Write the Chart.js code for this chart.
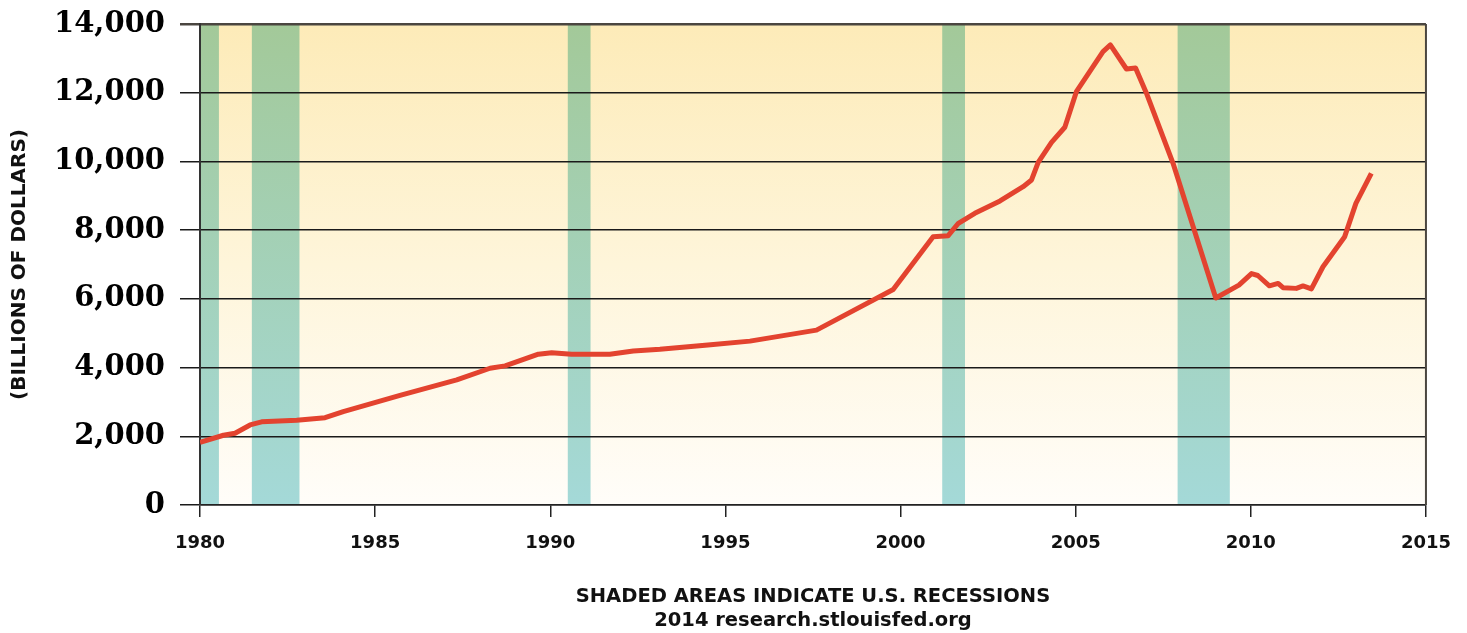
<!DOCTYPE html>
<html>
<head>
<meta charset="utf-8">
<script src="https://cdn.jsdelivr.net/npm/chart.js@4/dist/chart.umd.min.js"></script>
<style>
  body { margin: 0; background: #fff; }
  #wrap { width: 1467px; height: 633px; }
</style>
</head>
<body>
<div id="wrap"><canvas id="debtChart" width="1467" height="633"></canvas></div>
<script>
// values (billions of dollars)
const years = [1980.0, 1980.67, 1981.0, 1981.43, 1981.76, 1982.76, 1983.57, 1984.09, 1985.71, 1987.33,
    1988.28, 1988.71, 1989.66, 1990.04, 1990.61, 1991.7, 1992.37, 1993.13, 1994.5, 1995.7, 1997.6,
    1999.79, 2000.93, 2001.36, 2001.65, 2002.12, 2002.84, 2003.5, 2003.74, 2003.93, 2004.31, 2004.69,
    2005.02, 2005.78, 2005.99, 2006.45, 2006.71, 2007.02, 2007.78, 2009.0, 2009.66, 2010.02, 2010.2,
    2010.53, 2010.78, 2010.92, 2011.3, 2011.49, 2011.73, 2012.06, 2012.68, 2013.0, 2013.44];
const debtValues = [1820, 2030, 2090, 2330, 2420, 2470, 2540, 2720, 3190, 3640,
    3980, 4050, 4390, 4430, 4390, 4390, 4480, 4530, 4660, 4770, 5090,
    6270, 7810, 7840, 8200, 8490, 8850, 9265, 9460, 9975, 10555, 10995,
    12030, 13195, 13390, 12690, 12720, 11985, 9945, 6025, 6400, 6735, 6680,
    6380, 6450, 6325, 6305, 6375, 6290, 6935, 7810, 8780, 9655];

const recessionStart = [1980.0, 1981.48, 1990.5, 2001.19, 2007.91];
const recessionEnd = [1980.54, 1982.84, 1991.15, 2001.84, 2009.4];

const yTickValues = [0, 2000, 4000, 6000, 8000, 10000, 12000, 14000];
const xTickValues = [1980, 1985, 1990, 1995, 2000, 2005, 2010, 2015];

const backdrop = {
    id: 'backdrop',
    beforeDraw(chart) {
        const { ctx, chartArea: a, scales: { x } } = chart;
        ctx.save();
        const bg = ctx.createLinearGradient(0, a.top, 0, a.bottom);
        bg.addColorStop(0, '#fdebb8');
        bg.addColorStop(0.5, '#fef5da');
        bg.addColorStop(1, '#fffdf9');
        ctx.fillStyle = bg;
        ctx.fillRect(a.left, a.top, a.width, a.height);

        const band = ctx.createLinearGradient(0, a.top, 0, a.bottom);
        band.addColorStop(0, '#a3c999');
        band.addColorStop(1, '#a4d9d8');
        ctx.fillStyle = band;
        recessionStart.forEach((s, i) => {
            const x0 = x.getPixelForValue(s);
            const x1 = x.getPixelForValue(recessionEnd[i]);
            ctx.fillRect(x0, a.top, x1 - x0, a.height);
        });
        ctx.restore();
    },
    afterDraw(chart) {
        // right frame line
        const { ctx, chartArea: a } = chart;
        ctx.save();
        ctx.strokeStyle = '#4a4640';
        ctx.lineWidth = 2;
        ctx.beginPath();
        ctx.moveTo(a.right, a.top);
        ctx.lineTo(a.right, a.bottom);
        ctx.stroke();
        ctx.restore();
    }
};

new Chart(document.getElementById('debtChart'), {
    type: 'line',
    data: {
        datasets: [{
            data: years.map((y, i) => ({ x: y, y: debtValues[i] })),
            borderColor: '#e3432f',
            borderWidth: 5,
            pointRadius: 0,
            tension: 0,
            fill: false,
            borderJoinStyle: 'round'
        }]
    },
    options: {
        responsive: false,
        animation: false,
        layout: { padding: { left: 0, right: 41, top: 24, bottom: 0 } },
        plugins: { legend: { display: false }, tooltip: { enabled: false } },
        scales: {
            x: {
                type: 'linear',
                min: 1980,
                max: 2015,
                afterBuildTicks: s => { s.ticks = xTickValues.map(v => ({ value: v })); },
                afterFit: s => { s.height = 128; },
                grid: { drawOnChartArea: false, drawTicks: true, tickLength: 12, color: '#222', lineWidth: 1.5 },
                border: { display: true, color: '#222', width: 1.5 },
                ticks: {
                    color: '#111',
                    padding: 16,
                    maxRotation: 0,
                    font: { family: 'DejaVu Sans', weight: 'bold', size: 18 },
                    callback: v => String(v)
                },
                title: {
                    display: true,
                    text: ['SHADED AREAS INDICATE U.S. RECESSIONS', '2014 research.stlouisfed.org'],
                    color: '#111',
                    padding: { top: 0, bottom: 0 },
                    font: { family: 'DejaVu Sans', weight: 'bold', size: 19.5, lineHeight: 1.23 }
                }
            },
            y: {
                min: 0,
                max: 14000,
                afterBuildTicks: s => { s.ticks = yTickValues.map(v => ({ value: v })); },
                afterFit: s => { s.width = 200; s.paddingTop = 0; s.paddingBottom = 0; },
                grid: {
                    color: c => c.tick && c.tick.value === 14000 ? '#4a4640' : '#1a1a1a',
                    lineWidth: c => c.tick && c.tick.value === 14000 ? 2.5 : 1.5,
                    tickLength: 20,
                    drawTicks: true
                },
                border: { display: true, color: '#333', width: 2 },
                ticks: {
                    color: '#000',
                    padding: 15,
                    font: { family: 'DejaVu Serif', weight: 'bold', size: 29 },
                    callback: v => v.toLocaleString('en-US')
                },
                title: {
                    display: true,
                    text: '(BILLIONS OF DOLLARS)',
                    color: '#111',
                    padding: { top: 8, bottom: 0 },
                    font: { family: 'DejaVu Sans', weight: 'bold', size: 20 }
                }
            }
        }
    },
    plugins: [backdrop]
});
</script>
</body>
</html>
